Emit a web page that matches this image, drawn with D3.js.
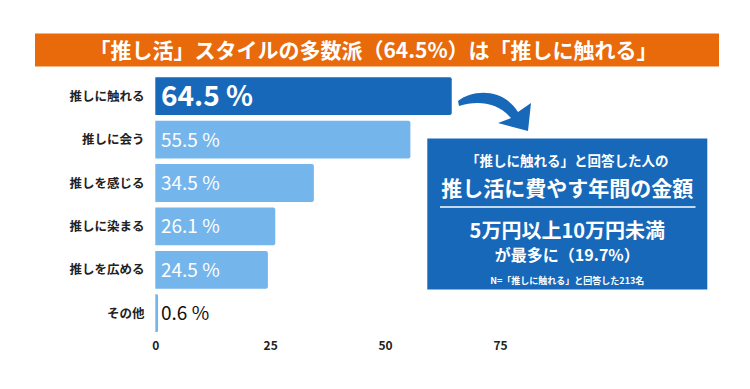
<!DOCTYPE html>
<html>
<head>
<meta charset="utf-8">
<script src="https://cdn.jsdelivr.net/npm/d3@7"></script>
<style>
  html, body { margin: 0; padding: 0; background: #fff; }
  #chart { width: 750px; height: 389px; }
  text { font-family: "Noto Sans CJK JP", "Noto Sans", sans-serif; }
</style>
</head>
<body>
<div id="chart"></div>
<script>
// Chart data
const categories = ["推しに触れる", "推しに会う", "推しを感じる", "推しに染まる", "推しを広める", "その他"];
const values = [64.5, 55.5, 34.5, 26.1, 24.5, 0.6];
const xTicks = [0, 25, 50, 75];
const titleText = "「推し活」スタイルの多数派（64.5%）は「推しに触れる」";
const calloutLines = [
    "「推しに触れる」と回答した人の",
    "推し活に費やす年間の金額",
    "5万円以上10万円未満",
    "が最多に（19.7%）",
    "N=「推しに触れる」と回答した213名"
];

const W = 750, H = 389;
const darkBlue = "#1868b9";
const lightBlue = "#74b5ec";
const orange = "#e86a0b";

const svg = d3.select("#chart").append("svg")
    .attr("width", W).attr("height", H)
    .attr("viewBox", `0 0 ${W} ${H}`)
    .style("display", "block");

// Title banner
svg.append("rect")
    .attr("x", 35).attr("y", 33.5)
    .attr("width", 684).attr("height", 33)
    .attr("fill", orange);
svg.append("text")
    .attr("x", 373.5).attr("y", 57.5)
    .attr("text-anchor", "middle")
    .attr("fill", "#fff")
    .attr("font-size", "21px")
    .attr("font-weight", "bold")
    .text(titleText);

const x = d3.scaleLinear().domain([0, 75]).range([155.3, 500]);
const y = d3.scaleBand().domain(categories)
    .range([74.5, 334.9])
    .paddingInner(0.13).paddingOuter(0.065);

// Bars with rounded right corners
const r = 2;
const barPath = (d, i) => {
    const x0 = x(0), x1 = x(values[i]), y0 = y(d), h = y.bandwidth();
    const rr = Math.min(r, (x1 - x0) / 2);
    return `M${x0},${y0}H${x1 - rr}Q${x1},${y0} ${x1},${y0 + rr}V${y0 + h - rr}Q${x1},${y0 + h} ${x1 - rr},${y0 + h}H${x0}Z`;
};

svg.append("g").selectAll("path")
    .data(categories)
    .join("path")
    .attr("d", barPath)
    .attr("fill", (d, i) => i === 0 ? darkBlue : lightBlue);

// Value labels
svg.append("g").selectAll("text")
    .data(categories)
    .join("text")
    .attr("x", 161)
    .attr("y", (d, i) => y(d) + y.bandwidth() / 2 + (i === 0 ? 10 : 7))
    .attr("font-size", (d, i) => i === 0 ? "28px" : "19px")
    .attr("font-weight", (d, i) => i === 0 ? "bold" : "normal")
    .attr("fill", (d, i) => values[i] < 5 ? "#111" : "#fff")
    .text((d, i) => `${values[i]} %`);

// Category labels
svg.append("g").selectAll("text")
    .data(categories)
    .join("text")
    .attr("x", 144.5)
    .attr("y", d => y(d) + y.bandwidth() / 2 + 4.5)
    .attr("text-anchor", "end")
    .attr("font-size", "12.5px")
    .attr("font-weight", "bold")
    .attr("fill", "#222")
    .text(d => d);

// X axis (labels only)
const axis = svg.append("g")
    .attr("transform", "translate(0,338)")
    .call(d3.axisBottom(x).tickValues(xTicks).tickSize(0).tickPadding(0));
axis.select(".domain").remove();
axis.selectAll("text")
    .attr("dy", "0")
    .attr("y", 12)
    .attr("font-family", "'Noto Sans CJK JP', sans-serif")
    .attr("font-size", "12px")
    .attr("font-weight", "bold")
    .attr("fill", "#222");

// Curved arrow
svg.append("path")
    .attr("d", "M458,101 C472,90 502,87 518,112 L531,103 L528,131 L498,123 L511,118 C496,101 476,101 459,106 Z")
    .attr("fill", darkBlue);

// Callout box
const bx = 427.3, by = 138.5, bw = 280, bh = 151;
const cx = bx + bw / 2;
svg.append("rect")
    .attr("x", bx).attr("y", by)
    .attr("width", bw).attr("height", bh)
    .attr("fill", darkBlue);
svg.append("line")
    .attr("x1", 440).attr("x2", 695.5)
    .attr("y1", 207).attr("y2", 207)
    .attr("stroke", "#fff").attr("stroke-width", 1.5);

const lineStyle = [
    { y: 166, size: 13.5 },
    { y: 196, size: 21 },
    { y: 238, size: 20 },
    { y: 261, size: 16 },
    { y: 284, size: 9 }
];
svg.append("g").selectAll("text")
    .data(calloutLines)
    .join("text")
    .attr("x", cx)
    .attr("y", (d, i) => lineStyle[i].y)
    .attr("text-anchor", "middle")
    .attr("fill", "#fff")
    .attr("font-weight", "bold")
    .attr("font-size", (d, i) => lineStyle[i].size + "px")
    .text(d => d);
</script>
</body>
</html>
